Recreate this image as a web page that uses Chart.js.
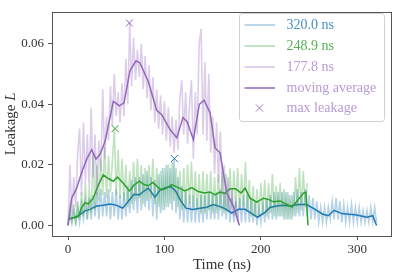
<!DOCTYPE html>
<html><head><meta charset="utf-8">
<script src="https://cdn.jsdelivr.net/npm/chart.js@4.4.1/dist/chart.umd.min.js"></script>
<style>html,body{margin:0;padding:0;background:#fff;}canvas{display:block}</style>
</head><body>
<canvas id="c" width="398" height="279"></canvas>
<script>
// ---- data ----
const seriesLabels = ['320.0 ns', '248.9 ns', '177.8 ns'];
const rawStep = 2; // ns between raw samples
const blueRaw = [0.000,0.004,0.001,0.005,0.001,0.006,0.001,0.007,0.002,0.008,0.002,0.009,0.002,0.010,0.003,0.011,0.002,0.012,0.003,0.011,
0.003,0.012,0.002,0.011,0.003,0.012,0.002,0.010,0.002,0.011,0.003,0.013,0.004,0.015,0.005,0.016,0.004,0.016,0.005,0.017,
0.006,0.018,0.005,0.016,0.003,0.015,0.002,0.017,0.004,0.019,0.005,0.020,0.006,0.019,0.005,0.022,0.004,0.016,0.002,0.013,
0.001,0.011,0.001,0.010,0.001,0.010,0.001,0.009,0.001,0.010,0.001,0.010,0.002,0.011,0.002,0.010,0.002,0.011,0.002,0.012,
0.003,0.011,0.002,0.010,0.001,0.009,0.001,0.008,0.001,0.009,0.001,0.010,0.001,0.010,0.001,0.009,0.001,0.008,0.000,0.006,
0.001,0.007,0.001,0.009,0.002,0.010,0.002,0.011,0.002,0.011,0.003,0.011,0.002,0.011,0.002,0.010,0.002,0.011,0.003,0.012,
0.003,0.011,0.003,0.012,0.003,0.010,0.002,0.009,0.002,0.008,0.001,0.006,0.001,0.006,0.001,0.006,0.002,0.008,0.002,0.009,
0.002,0.008,0.001,0.007,0.001,0.006,0.001,0.007,0.001,0.006,0.001,0.006,0.001,0.005,0.001,0.005,0.001,0.006,0.001,0.006,0.001];
const greenRaw = [0.000,0.006,0.001,0.007,0.000,0.008,0.002,0.011,0.003,0.014,0.002,0.012,0.004,0.024,0.005,0.020,0.008,0.022,0.010,0.026,
0.009,0.023,0.011,0.021,0.032,0.010,0.025,0.009,0.022,0.008,0.020,0.006,0.018,0.007,0.021,0.008,0.022,0.009,0.020,0.007,
0.019,0.008,0.020,0.009,0.022,0.007,0.019,0.006,0.018,0.005,0.019,0.006,0.020,0.007,0.021,0.008,0.019,0.006,0.018,0.005,
0.019,0.006,0.020,0.007,0.021,0.006,0.018,0.005,0.017,0.004,0.018,0.004,0.017,0.005,0.018,0.004,0.016,0.004,0.017,0.005,
0.018,0.004,0.017,0.005,0.019,0.006,0.018,0.006,0.019,0.005,0.017,0.006,0.021,0.005,0.015,0.003,0.013,0.003,0.012,0.003,
0.014,0.004,0.015,0.003,0.014,0.004,0.017,0.003,0.013,0.003,0.014,0.003,0.012,0.002,0.011,0.002,0.010,0.003,0.016,0.004,
0.019,0.005,0.018,0.006,0.014];
const purpleRaw = [0.000,0.020,0.004,0.016,0.006,0.024,0.032,0.010,0.034,0.014,0.030,0.012,0.039,0.016,0.030,0.010,0.028,0.018,0.045,0.022,
0.036,0.028,0.046,0.033,0.050,0.036,0.044,0.034,0.047,0.036,0.055,0.040,0.067,0.046,0.062,0.048,0.058,0.049,0.060,0.045,
0.056,0.042,0.053,0.038,0.049,0.034,0.045,0.032,0.043,0.030,0.041,0.028,0.039,0.026,0.036,0.024,0.035,0.025,0.042,0.048,
0.030,0.044,0.027,0.040,0.048,0.022,0.044,0.030,0.060,0.065,0.030,0.054,0.028,0.050,0.024,0.036,0.017,0.034,0.014,0.031,
0.010,0.020,0.006,0.016,0.004,0.012,0.003,0.008,0.002];

const blueAvgT = [0,5.5,10.7,17.6,22.8,29.7,36.6,43.6,49.8,56.7,62.6,68.5,74,78.1,83.3,90.2,95.4,101.6,106.8,111.9,117.1,122.3,129.2,136.9,143.9,150.7,157.7,162.9,169.8,176.7,183.6,190.6,196.5,204.4,209.5,216.5,223.3,230.3,238.9,247.6,256.2,264.2,270,275.9,283.9,290.8,297.7,302.9,309.9,316.1,320];
const blueAvg = [0.002,0.0025,0.0032,0.0048,0.0053,0.0064,0.0067,0.0071,0.0067,0.0057,0.008,0.0103,0.0101,0.0112,0.0123,0.0093,0.0117,0.0125,0.0128,0.0112,0.008,0.0057,0.0053,0.0057,0.006,0.0069,0.0062,0.0055,0.0041,0.0053,0.0053,0.0039,0.0027,0.0043,0.0059,0.0064,0.0067,0.0064,0.0069,0.0069,0.0053,0.0037,0.0032,0.005,0.0039,0.0037,0.0035,0.0032,0.0027,0.0032,0];
const greenAvgT = [0,5.5,10.7,14.2,17.6,21.1,26.2,31.4,36.6,41.8,47,51.2,57.4,63.6,68.5,74,78.8,83.3,87.9,93.7,97.2,102.4,107.5,114.4,121.3,128.3,135.1,141.3,147.3,152.5,157.7,162.9,168,173.9,179.5,183.6,188.8,195.8,202.6,207.8,213,219.8,224.9,232.2,237.4,244.3,246.8,248.9];
const greenAvg = [0.002,0.0025,0.0029,0.0059,0.0075,0.0071,0.009,0.0133,0.0167,0.0155,0.0146,0.016,0.0139,0.0114,0.0133,0.0146,0.0135,0.0131,0.0142,0.0125,0.0117,0.0123,0.0135,0.0125,0.0114,0.0125,0.0112,0.0107,0.011,0.0101,0.011,0.0106,0.0121,0.0121,0.0107,0.0123,0.009,0.0077,0.009,0.0086,0.0078,0.0081,0.0073,0.0061,0.008,0.0107,0.011,0];
const purpleAvgT = [0,3.8,9,14.2,19.4,24.6,29,33.2,38.4,47,53.2,58.1,64.3,70.5,74.7,83.3,92,97.2,105.8,112.8,119.3,123.8,130,136.2,141.1,147.3,152.5,157.7,164.6,171.5,177.8];
const purpleAvg = [0,0.009,0.0123,0.0176,0.0219,0.025,0.0219,0.0235,0.0277,0.041,0.0395,0.0405,0.0512,0.0544,0.0537,0.0475,0.038,0.0366,0.0317,0.029,0.0357,0.0341,0.0283,0.04,0.0414,0.0373,0.0256,0.024,0.0107,0.0064,0];

const maxT = [110.3, 48.8, 63.6];
const maxL = [0.0221, 0.032, 0.0669];
const xTicks = [0, 100, 200, 300];
const yTicks = [0, 0.02, 0.04, 0.06];
const legendLabels = ['320.0 ns', '248.9 ns', '177.8 ns', 'moving average', 'max leakage'];

// ---- styling ----
const C = ['#1f77b4', '#2ca02c', '#9467bd'];
const CL = ['rgba(31,119,180,0.33)', 'rgba(44,160,44,0.3)', 'rgba(148,103,189,0.33)'];
const CLeg = ['rgba(31,119,180,0.4)', 'rgba(44,160,44,0.4)', 'rgba(148,103,189,0.4)'];
const FONT = "'Liberation Serif', 'DejaVu Serif', serif";

function rawPts(arr) { return arr.map((v, i) => ({x: i * rawStep, y: v})); }
function avgPts(t, v) { return t.map((x, i) => ({x: x, y: v[i]})); }

const raws = [blueRaw, greenRaw, purpleRaw];
const avgs = [[blueAvgT, blueAvg], [greenAvgT, greenAvg], [purpleAvgT, purpleAvg]];
const datasets = [];
let ord = 20;
for (let s = 0; s < 3; s++) {
  datasets.push({type: 'line', label: seriesLabels[s], data: rawPts(raws[s]), borderColor: CL[s], borderWidth: 1.6, pointRadius: 0, tension: 0, order: ord--});
  datasets.push({type: 'line', label: 'avg ' + seriesLabels[s], data: avgPts(avgs[s][0], avgs[s][1]), borderColor: C[s], borderWidth: 1.5, pointRadius: 0, tension: 0, order: ord--});
  datasets.push({type: 'scatter', label: 'max ' + seriesLabels[s], data: [{x: maxT[s], y: maxL[s]}], borderColor: C[s], backgroundColor: C[s], pointStyle: 'crossRot', pointRadius: 5, borderWidth: 1, order: ord--});
}

const deco = {
  id: 'deco',
  afterDatasetsDraw(chart) {
    const ctx = chart.ctx, a = chart.chartArea;
    ctx.save();
    ctx.strokeStyle = '#555';
    ctx.lineWidth = 1;
    ctx.strokeRect(Math.round(a.left) + 0.5, Math.round(a.top) + 0.5, Math.round(a.right - a.left) - 1, Math.round(a.bottom - a.top));
    // x title
    ctx.fillStyle = '#333';
    ctx.font = '15px ' + FONT;
    ctx.textAlign = 'center';
    ctx.textBaseline = 'middle';
    ctx.fillText('Time (ns)', (a.left + a.right) / 2, 265);
    // y title
    ctx.save();
    ctx.translate(11.5, (a.top + a.bottom) / 2);
    ctx.rotate(-Math.PI / 2);
    ctx.font = '15px ' + FONT;
    const w1 = ctx.measureText('Leakage ').width;
    ctx.font = 'italic 15px ' + FONT;
    const w2 = ctx.measureText('L').width;
    let x0 = -(w1 + w2) / 2;
    ctx.textAlign = 'left';
    ctx.font = '15px ' + FONT;
    ctx.fillText('Leakage ', x0, 0);
    ctx.font = 'italic 15px ' + FONT;
    ctx.fillText('L', x0 + w1, 0);
    ctx.restore();
    // legend
    const bx = 239.5, by = 13.5, bw = 145, bh = 108;
    ctx.beginPath();
    ctx.roundRect(bx, by, bw, bh, 3);
    ctx.fillStyle = 'rgba(255,255,255,0.8)';
    ctx.fill();
    ctx.strokeStyle = '#d0d0d0';
    ctx.lineWidth = 1;
    ctx.stroke();
    const rows = [25, 46, 67, 88, 108];
    const txtCol = ['#4a8fc4', '#55b155', '#b69ad6', '#b69ad6', '#b69ad6'];
    const lineCol = [CLeg[0], CLeg[1], CLeg[2], C[2]];
    for (let i = 0; i < 5; i++) {
      const y = rows[i];
      if (i < 4) {
        ctx.beginPath();
        ctx.moveTo(244.5, y); ctx.lineTo(275, y);
        ctx.strokeStyle = lineCol[i];
        ctx.lineWidth = 1.5;
        ctx.stroke();
      } else {
        ctx.beginPath();
        const cx = 259.5, r = 3.6;
        ctx.moveTo(cx - r, y - r); ctx.lineTo(cx + r, y + r);
        ctx.moveTo(cx - r, y + r); ctx.lineTo(cx + r, y - r);
        ctx.strokeStyle = '#9c7bc6';
        ctx.lineWidth = 1;
        ctx.stroke();
      }
      ctx.fillStyle = txtCol[i];
      ctx.font = '14px ' + FONT;
      ctx.textAlign = 'left';
      ctx.textBaseline = 'middle';
      ctx.fillText(legendLabels[i], 286.5, y + 0.5);
    }
    ctx.restore();
  }
};

new Chart(document.getElementById('c'), {
  data: {datasets: datasets},
  options: {
    responsive: false,
    animation: false,
    devicePixelRatio: 1,
    layout: {padding: {top: 5, right: 6, left: 0, bottom: 0}},
    plugins: {legend: {display: false}, tooltip: {enabled: false}},
    scales: {
      x: {
        type: 'linear', min: -16.6, max: 336,
        afterBuildTicks: s => { s.ticks = xTicks.map(v => ({value: v})); },
        afterFit: s => { s.height = 43; },
        ticks: {color: '#333', font: {family: FONT, size: 13}, padding: 2, callback: v => String(v), maxRotation: 0},
        grid: {display: true, drawOnChartArea: false, drawTicks: true, tickLength: 4, color: '#555'},
        border: {display: false}
      },
      y: {
        type: 'linear', min: -0.0035, max: 0.0706,
        afterBuildTicks: s => { s.ticks = yTicks.map(v => ({value: v})); },
        afterFit: s => { s.width = 52; },
        ticks: {color: '#333', font: {family: FONT, size: 13}, padding: 4, callback: v => v.toFixed(2)},
        grid: {display: true, drawOnChartArea: false, drawTicks: true, tickLength: 4, color: '#555'},
        border: {display: false}
      }
    }
  },
  plugins: [deco]
});
</script>
</body></html>
